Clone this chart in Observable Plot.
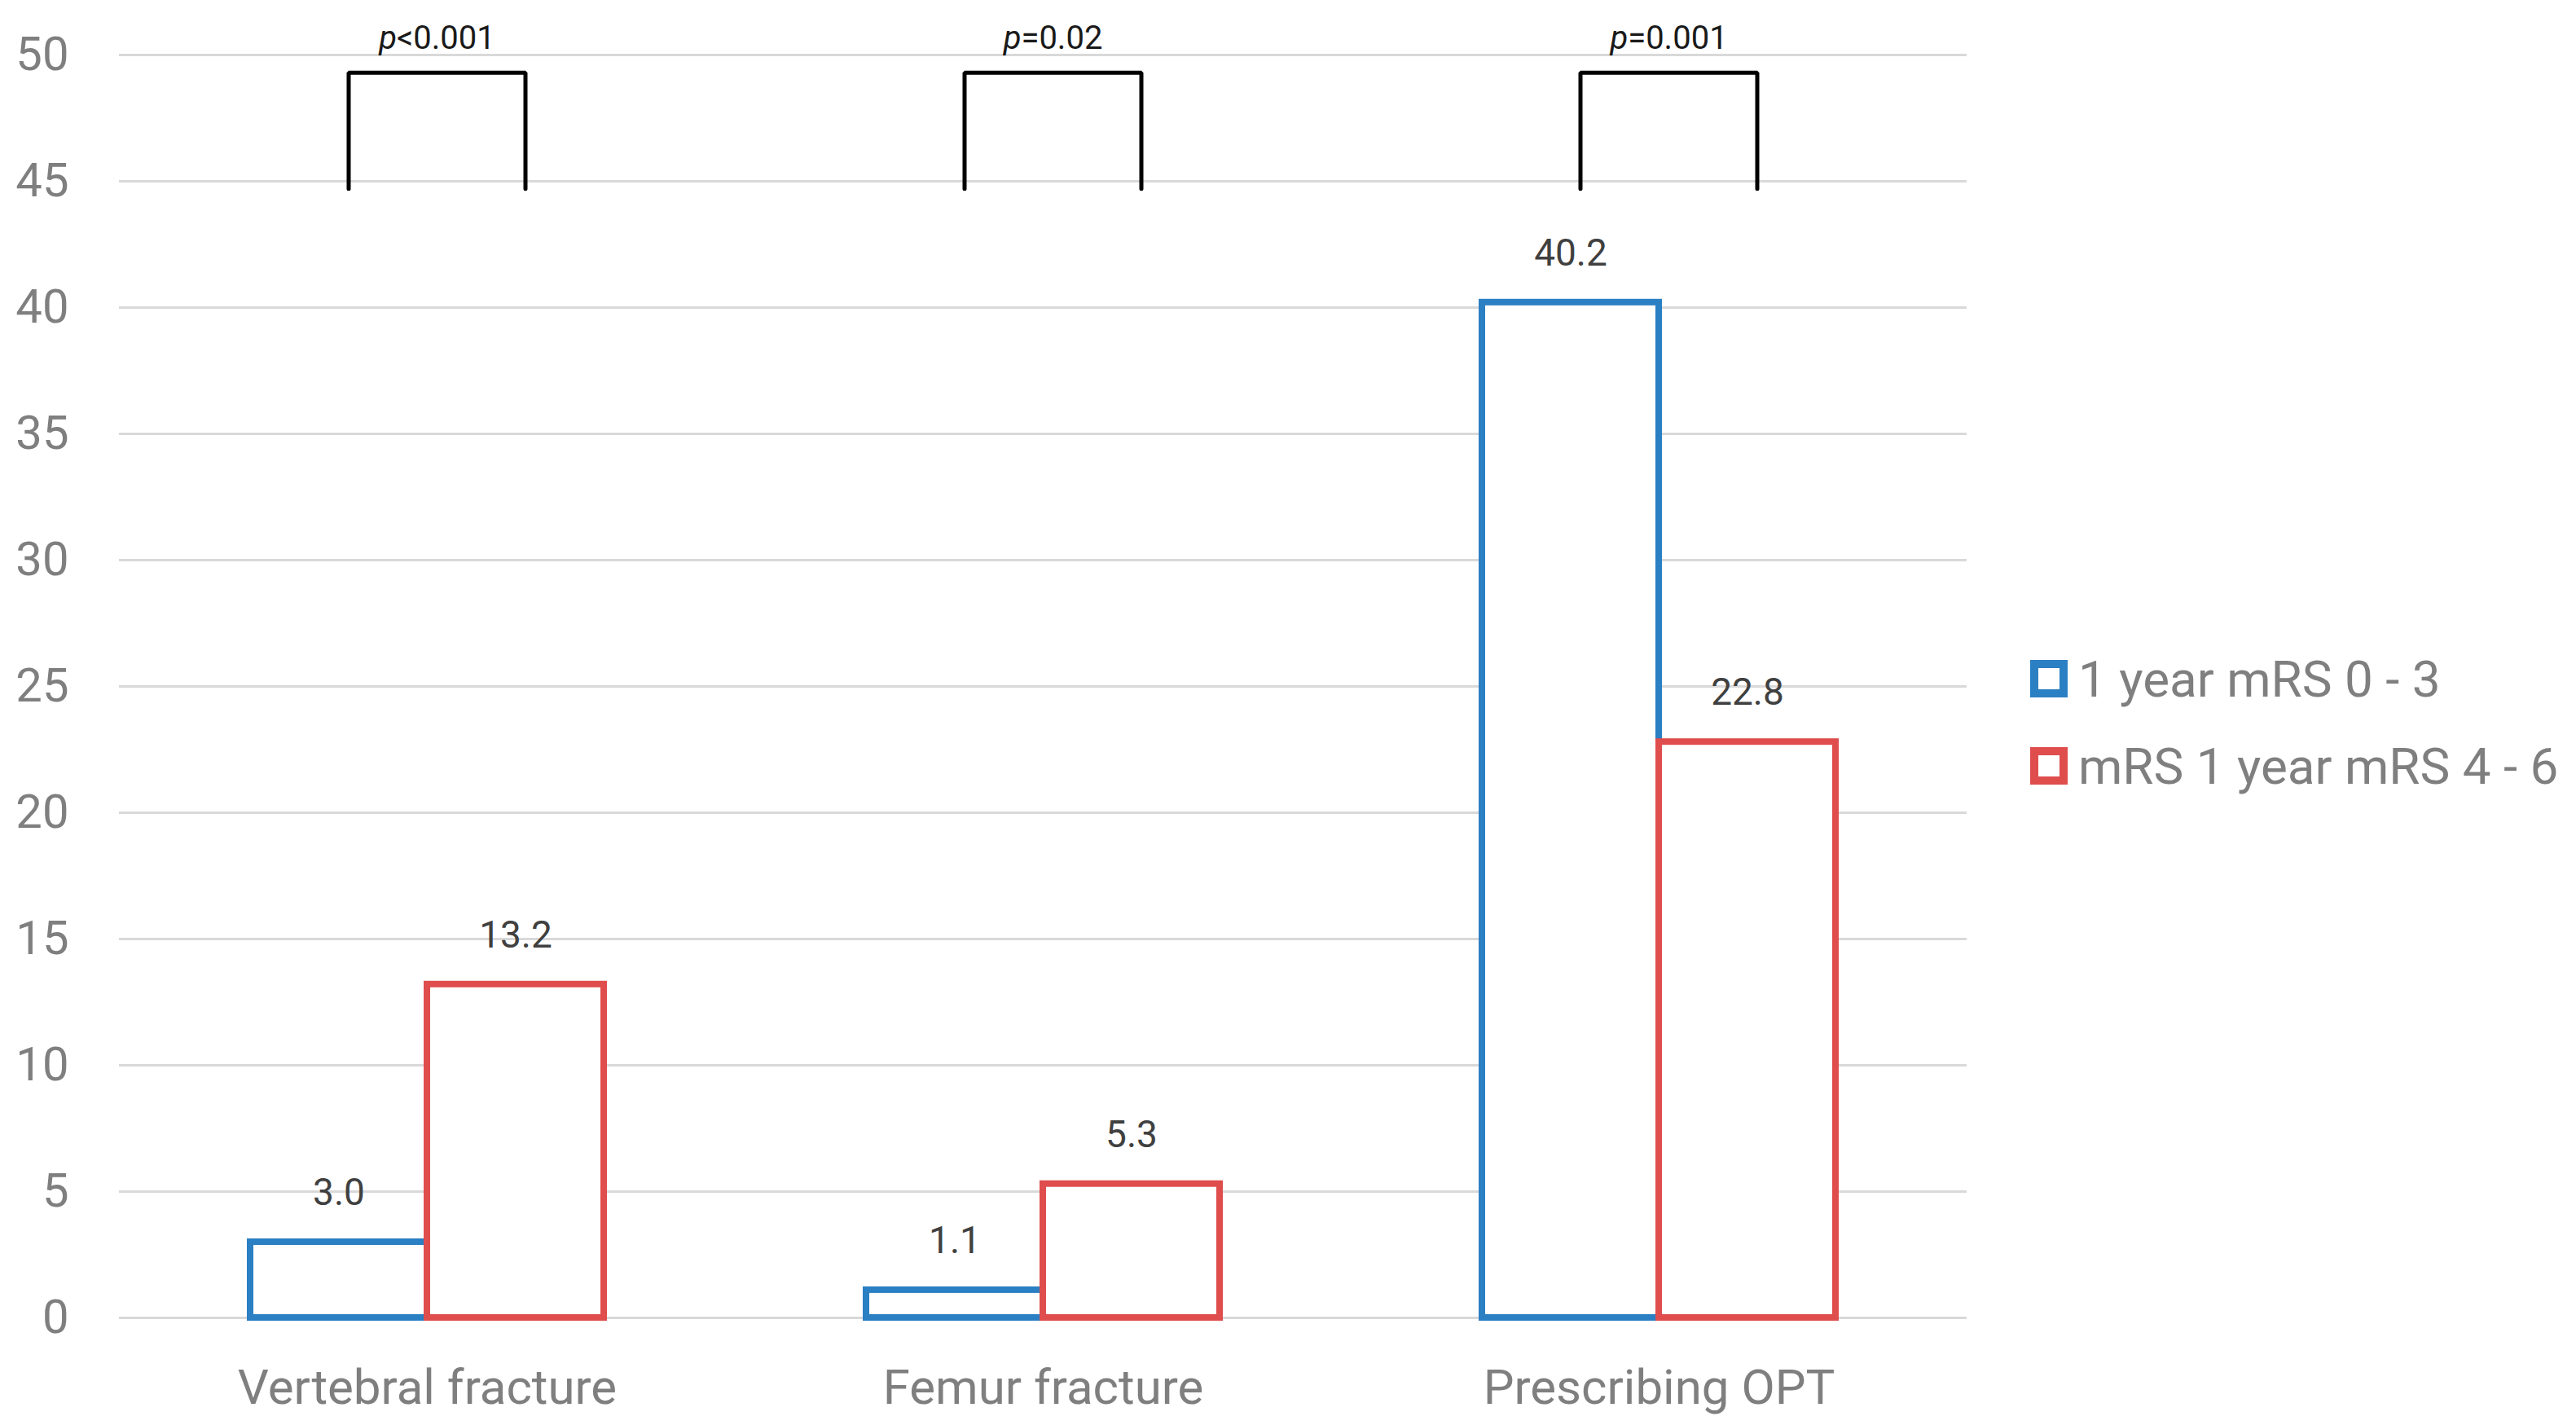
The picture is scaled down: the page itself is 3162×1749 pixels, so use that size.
<!DOCTYPE html>
<html><head><meta charset="utf-8">
<script src="https://cdn.jsdelivr.net/npm/d3@7"></script>
<script src="https://cdn.jsdelivr.net/npm/@observablehq/plot@0.6"></script>
<style>
body{margin:0;background:#fff;}
#wrap{position:relative;width:3162px;height:1749px;font-family:Roboto, sans-serif;}
#legend{position:absolute;left:2492px;top:810px;}
.item{display:flex;align-items:center;height:46px;margin-bottom:61px;font-size:62px;color:#7f7f7f;white-space:nowrap;}
.sw{width:46px;height:46px;box-sizing:border-box;border:10px solid;margin-right:13px;background:#fff;}
</style></head><body><div id="wrap"></div>
<script>
const categories = ["Vertebral fracture", "Femur fracture", "Prescribing OPT"];
const series = ["1 year mRS 0 - 3", "mRS 1 year mRS 4 - 6"];
const valuesGood = [3.0, 1.1, 40.2];
const valuesPoor = [13.2, 5.3, 22.8];
const pLabels = ["p<0.001", "p=0.02", "p=0.001"];
const yTicks = [0, 5, 10, 15, 20, 25, 30, 35, 40, 45, 50];
const colors = ["#2b7fc3", "#df4d4d"];
const bracketBottom = 44.7;
const bracketTop = 49.3;

const bars = [];
categories.forEach((c, i) => {
  bars.push({cat: c, s: series[0], v: valuesGood[i]});
  bars.push({cat: c, s: series[1], v: valuesPoor[i]});
});
const brackets = [];
categories.forEach(c => {
  brackets.push({cat: c, s: series[0], y: bracketBottom});
  brackets.push({cat: c, s: series[0], y: bracketTop});
  brackets.push({cat: c, s: series[1], y: bracketTop});
  brackets.push({cat: c, s: series[1], y: bracketBottom});
});
const pData = categories.map((c, i) => ({cat: c, p: pLabels[i], y: bracketTop}));

const chart = Plot.plot({
  width: 3162, height: 1749,
  marginLeft: 145, marginRight: 748, marginTop: 67, marginBottom: 132,
  style: {fontFamily: "Roboto, sans-serif", background: "white"},
  fx: {domain: categories, padding: 0},
  x: {domain: series, paddingInner: 0, paddingOuter: 0.734, axis: null},
  y: {domain: [0, 50]},
  color: {domain: series, range: colors},
  marks: [
    Plot.gridY(yTicks, {stroke: "#d9d9d9", strokeOpacity: 1, strokeWidth: 3}),
    Plot.axisY(yTicks, {tickSize: 0, tickPadding: 62, fontSize: 58, fill: "#7f7f7f", label: null}),
    Plot.axisFx({anchor: "bottom", tickSize: 0, tickPadding: 63, fontSize: 60, fill: "#7f7f7f", label: null}),
    Plot.barY(bars, {fx: "cat", x: "s", y: "v", fill: "white", stroke: "s", strokeWidth: 8, inset: 0}),
    Plot.text(bars, {fx: "cat", x: "s", y: "v", text: d => d.v.toFixed(1), dy: -60, fontSize: 46, fill: "#404040"}),
    Plot.line(brackets, {fx: "cat", x: "s", y: "y", z: "cat", stroke: "black", strokeWidth: 5, strokeLinejoin: "miter", dx: 12}),
    Plot.text(pData, {fx: "cat", y: "y", text: "p", dy: -42, dx: 12, fontSize: 40, fill: "#1a1a1a"})
  ]
});
document.getElementById("wrap").appendChild(chart);

// italicize the leading "p" in p-value labels
const ns = "http://www.w3.org/2000/svg";
chart.querySelectorAll("text").forEach(t => {
  const s = t.textContent;
  if (!pLabels.includes(s)) return;
  while (t.firstChild) t.removeChild(t.firstChild);
  const a = document.createElementNS(ns, "tspan");
  a.setAttribute("font-style", "italic");
  a.style.fontStyle = "italic";
  a.textContent = s.slice(0, 1);
  const b = document.createElementNS(ns, "tspan");
  b.textContent = s.slice(1);
  t.appendChild(a); t.appendChild(b);
});

const legend = document.createElement("div");
legend.id = "legend";
series.forEach((s, i) => {
  const item = document.createElement("div");
  item.className = "item";
  const sw = document.createElement("div");
  sw.className = "sw";
  sw.style.borderColor = colors[i];
  const lab = document.createElement("span");
  lab.textContent = s;
  item.appendChild(sw); item.appendChild(lab);
  legend.appendChild(item);
});
document.getElementById("wrap").appendChild(legend);
</script></body></html>
